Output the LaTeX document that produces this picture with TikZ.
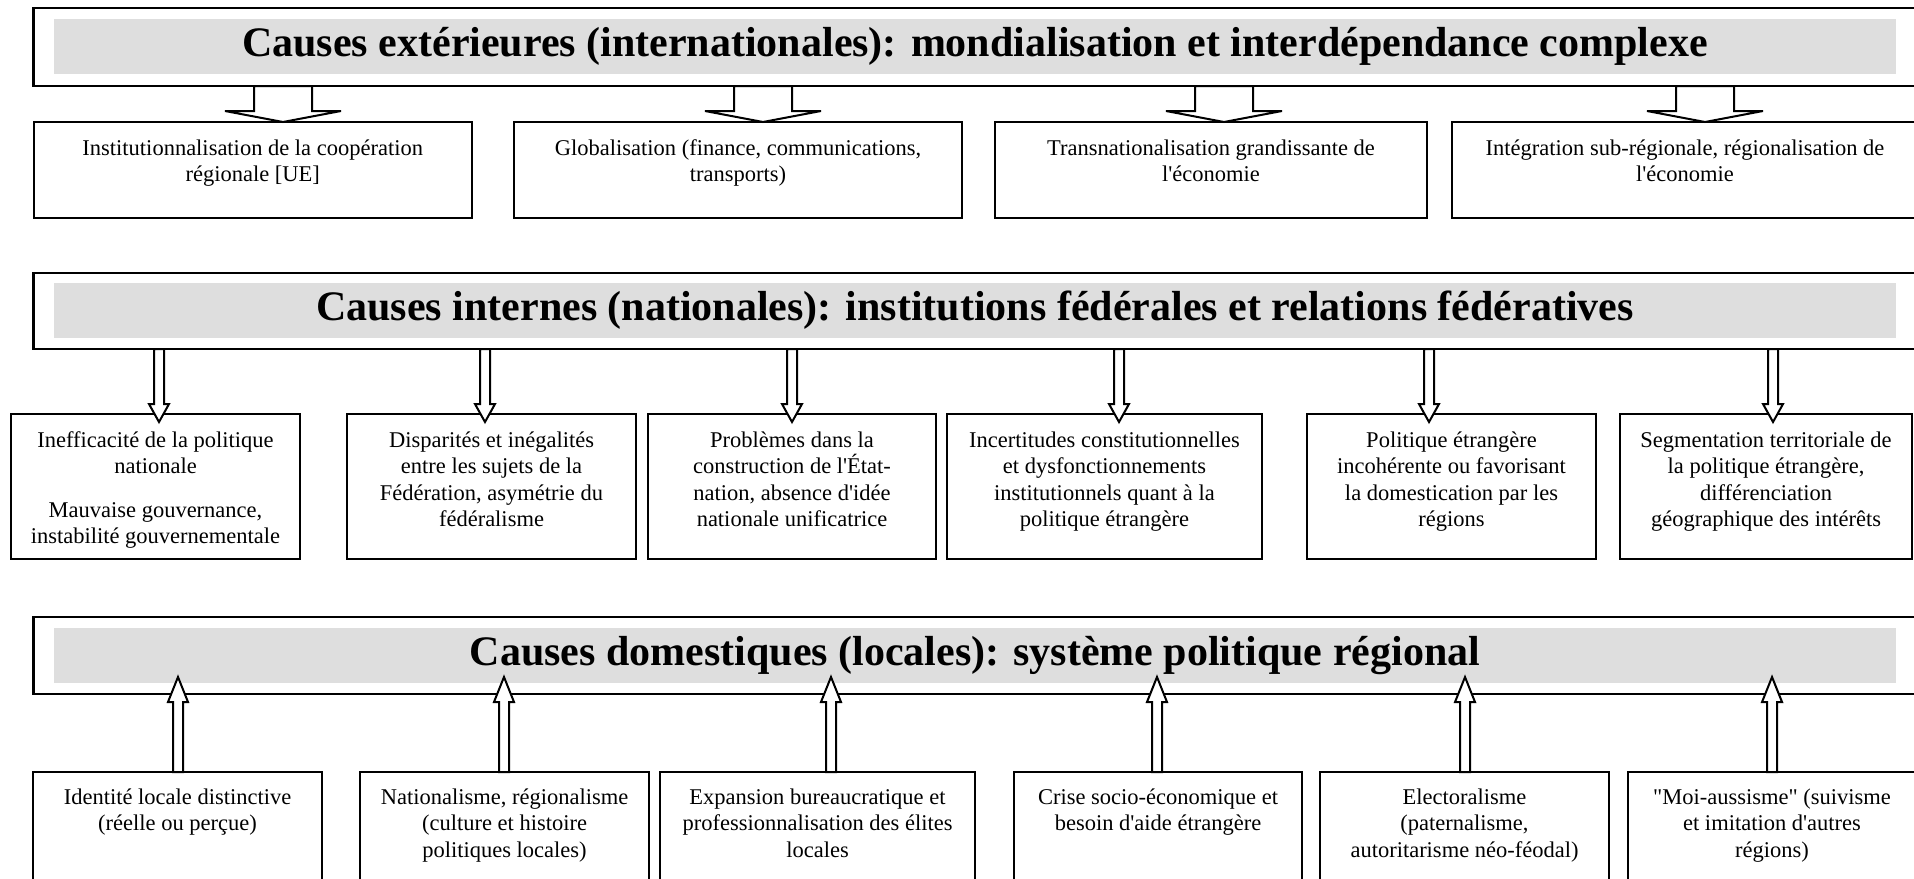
\documentclass[tikz,border=0pt]{standalone}
\usepackage{fontspec}
\setmainfont{Liberation Serif}
\usetikzlibrary{calc,fit}
\newcommand\aps{\textquotesingle}
% down block arrow: #1 start, #2 tip, #3 shaft half width, #4 head half width, #5 head length
\newcommand\blkdown[5]{\draw[blk] ($(#1)+(-#3,0)$) -- ($(#2)+(-#3,-#5)$) -- ($(#2)+(-#4,-#5)$) -- (#2) -- ($(#2)+(#4,-#5)$) -- ($(#2)+(#3,-#5)$) -- ($(#1)+(#3,0)$) -- cycle;}
\newcommand\blkup[5]{\draw[blk] ($(#1)+(-#3,0)$) -- ($(#2)+(-#3,#5)$) -- ($(#2)+(-#4,#5)$) -- (#2) -- ($(#2)+(#4,#5)$) -- ($(#2)+(#3,#5)$) -- ($(#1)+(#3,0)$) -- cycle;}
\begin{document}
\begin{tikzpicture}[x=0.5pt,y=-0.5pt,
  banner/.style={draw, line width=1.4pt, inner sep=0pt, outer sep=0pt},
  band/.style={fill=black!13, inner sep=0pt, outer sep=0pt},
  ttl/.style={font=\fontsize{21}{25}\selectfont\bfseries, inner sep=0pt, anchor=base},
  box/.style={draw, line width=1pt, inner sep=0pt, outer sep=0pt},
  txt/.style={font=\fontsize{11.25}{13.25}\selectfont, align=center, inner sep=0pt, anchor=north},
  blk/.style={draw, fill=white, line width=1pt, line join=miter}]
\useasboundingbox (0,0) rectangle (1914,878);
\clip (0,0) rectangle (1914,878);

% ---------- Row 1 ----------
\node[banner, fit={(33.5,8)(1940,86)}] (ext) {};
\node[band, fit={(54,19)(1896,74)}] (extband) {};
\node[ttl] (extttl) at ($(extband.north)+(0,37.5)$) {Causes extérieures (internationales): mondialisation et interdépendance complexe};

\node[box, fit={(33.5,122)(472,218)}] (b11) {};
\node[box, fit={(514,122)(962,218)}] (b12) {};
\node[box, fit={(995,122)(1427,218)}] (b13) {};
\node[box, fit={(1452,122)(1918,218)}] (b14) {};

\node[txt] (t11) at ($(b11.north)+(0,17)$) {Institutionnalisation de la coopération\\régionale [UE]};
\node[txt] (t12) at ($(b12.north)+(0,17)$) {Globalisation (finance, communications,\\transports)};
\node[txt] (t13) at ($(b13.north)+(0,17)$) {Transnationalisation grandissante de\\l\aps économie};
\node[txt] (t14) at ($(b14.north)+(0,17)$) {Intégration sub-régionale, régionalisation de\\l\aps économie};

\coordinate (x11) at (283,0);
\coordinate (x12) at (763,0);
\coordinate (x13) at (1224,0);
\coordinate (x14) at (1705,0);
\blkdown{ext.south -| x11}{b11.north -| x11}{29}{58}{11}
\blkdown{ext.south -| x12}{b12.north -| x12}{29}{58}{11}
\blkdown{ext.south -| x13}{b13.north -| x13}{29}{58}{11}
\blkdown{ext.south -| x14}{b14.north -| x14}{29}{58}{11}

% ---------- Row 2 ----------
\node[banner, fit={(33.5,273)(1940,349)}] (int) {};
\node[band, fit={(54,283)(1896,338)}] (intband) {};
\node[ttl] (intttl) at ($(intband.north)+(0,37.5)$) {Causes internes (nationales): institutions fédérales et relations fédératives};

\node[box, fit={(11,414)(300,559)}] (b21) {};
\node[box, fit={(347,414)(636,559)}] (b22) {};
\node[box, fit={(648,414)(936,559)}] (b23) {};
\node[box, fit={(947,414)(1262,559)}] (b24) {};
\node[box, fit={(1307,414)(1596,559)}] (b25) {};
\node[box, fit={(1620,414)(1912,559)}] (b26) {};

\node[txt] (t21) at ($(b21.north)+(0,17)$) {Inefficacité de la politique\\nationale\\[8.5pt]Mauvaise gouvernance,\\instabilité gouvernementale};
\node[txt] (t22) at ($(b22.north)+(0,17)$) {Disparités et inégalités\\entre les sujets de la\\Fédération, asymétrie du\\fédéralisme};
\node[txt] (t23) at ($(b23.north)+(0,17)$) {Problèmes dans la\\construction de l\aps État-\\nation, absence d\aps idée\\nationale unificatrice};
\node[txt] (t24) at ($(b24.north)+(0,17)$) {Incertitudes constitutionnelles\\et dysfonctionnements\\institutionnels quant à la\\politique étrangère};
\node[txt] (t25) at ($(b25.north)+(0,17)$) {Politique étrangère\\incohérente ou favorisant\\la domestication par les\\régions};
\node[txt] (t26) at ($(b26.north)+(0,17)$) {Segmentation territoriale de\\la politique étrangère,\\différenciation\\géographique des intérêts};

\coordinate (x21) at (159,0);
\coordinate (x22) at (485,0);
\coordinate (x23) at (792,0);
\coordinate (x24) at (1119,0);
\coordinate (x25) at (1429,0);
\coordinate (x26) at (1773,0);
\coordinate (p21) at ($(b21.north -| x21)+(0,8)$);
\coordinate (p22) at ($(b22.north -| x22)+(0,8)$);
\coordinate (p23) at ($(b23.north -| x23)+(0,8)$);
\coordinate (p24) at ($(b24.north -| x24)+(0,8)$);
\coordinate (p25) at ($(b25.north -| x25)+(0,8)$);
\coordinate (p26) at ($(b26.north -| x26)+(0,8)$);
\blkdown{int.south -| x21}{p21}{5}{10}{18}
\blkdown{int.south -| x22}{p22}{5}{10}{18}
\blkdown{int.south -| x23}{p23}{5}{10}{18}
\blkdown{int.south -| x24}{p24}{5}{10}{18}
\blkdown{int.south -| x25}{p25}{5}{10}{18}
\blkdown{int.south -| x26}{p26}{5}{10}{18}

% ---------- Row 3 ----------
\node[banner, fit={(33.5,617)(1940,694)}] (dom) {};
\node[band, fit={(54,628)(1896,683)}] (domband) {};
\node[ttl] (domttl) at ($(domband.north)+(0,37.5)$) {Causes domestiques (locales): système politique régional};

\node[box, fit={(33,772)(322,900)}] (b31) {};
\node[box, fit={(360,772)(649,900)}] (b32) {};
\node[box, fit={(660,772)(975,900)}] (b33) {};
\node[box, fit={(1014,772)(1302,900)}] (b34) {};
\node[box, fit={(1320,772)(1609,900)}] (b35) {};
\node[box, fit={(1628,772)(1940,900)}] (b36) {};

\coordinate (x31) at (178,0);
\coordinate (x32) at (504,0);
\coordinate (x33) at (831,0);
\coordinate (x34) at (1157,0);
\coordinate (x35) at (1465,0);
\coordinate (x36) at (1772,0);

\node[txt] (t31) at ($(b31.north)+(0,16)$) {Identité locale distinctive\\(réelle ou perçue)};
\node[txt] (t32) at ($(b32.north)+(0,16)$) {Nationalisme, régionalisme\\(culture et histoire\\politiques locales)};
\node[txt] (t33) at ($(b33.north)+(0,16)$) {Expansion bureaucratique et\\professionnalisation des élites\\locales};
\node[txt] (t34) at ($(b34.north)+(0,16)$) {Crise socio-économique et\\besoin d\aps aide étrangère};
\node[txt] (t35) at ($(b35.north)+(0,16)$) {Electoralisme\\(paternalisme,\\autoritarisme néo-féodal)};
\node[txt] (t36) at ($(b36.north -| x36)+(0,16)$) {\textquotedbl Moi-aussisme\textquotedbl\ (suivisme\\et imitation d\aps autres\\régions)};

\coordinate (q31) at ($(dom.south -| x31)+(0,-17)$);
\coordinate (q32) at ($(dom.south -| x32)+(0,-17)$);
\coordinate (q33) at ($(dom.south -| x33)+(0,-17)$);
\coordinate (q34) at ($(dom.south -| x34)+(0,-17)$);
\coordinate (q35) at ($(dom.south -| x35)+(0,-17)$);
\coordinate (q36) at ($(dom.south -| x36)+(0,-17)$);
\blkup{b31.north -| x31}{q31}{5}{10}{25}
\blkup{b32.north -| x32}{q32}{5}{10}{25}
\blkup{b33.north -| x33}{q33}{5}{10}{25}
\blkup{b34.north -| x34}{q34}{5}{10}{25}
\blkup{b35.north -| x35}{q35}{5}{10}{25}
\blkup{b36.north -| x36}{q36}{5}{10}{25}
\end{tikzpicture}
\end{document}
